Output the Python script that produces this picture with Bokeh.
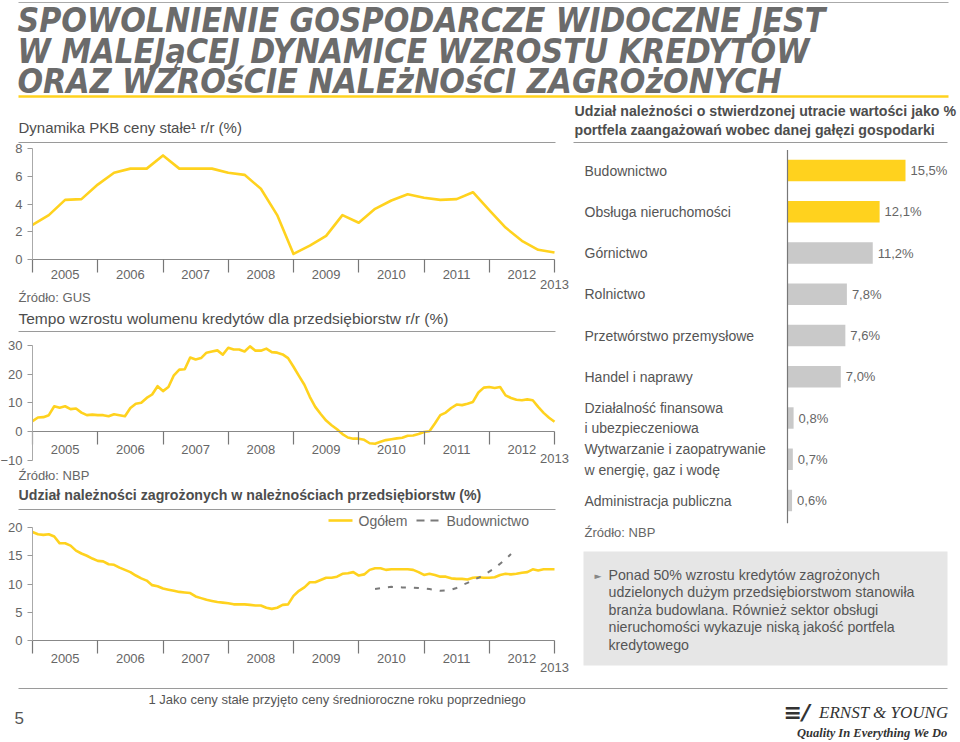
import numpy as np
from bokeh.plotting import figure
from bokeh.models import Range1d, LinearAxis, FixedTicker
from bokeh.core.properties import value
from bokeh.embed import file_html
from bokeh.resources import INLINE

# ---------------- data ----------------
years = [2005, 2006, 2007, 2008, 2009, 2010, 2011, 2012, 2013]
year_labels = ["2005", "2006", "2007", "2008", "2009", "2010", "2011", "2012"]
last_label = "2013"

# GDP growth, quarterly 2005Q1 .. 2013Q1 (%)
gdp = [2.5, 3.2, 4.3, 4.35, 5.4, 6.25, 6.55, 6.55, 7.5, 6.55, 6.55, 6.55, 6.25, 6.1, 5.1, 3.2,
       0.4, 1.0, 1.7, 3.2, 2.65, 3.65, 4.25, 4.7, 4.45, 4.3, 4.35, 4.85, 3.55, 2.3, 1.35, 0.7, 0.5]

# Corporate credit growth, monthly Jan 2005 .. Jan 2013 (%)
credit = [3.6, 4.9, 5.0, 5.7, 8.8, 8.3, 8.8, 7.8, 8.0, 6.6, 5.7, 5.9,
          5.7, 5.7, 5.3, 6.0, 5.7, 5.3, 8.2, 9.7, 10.0, 11.7, 12.9, 15.8,
          14.1, 15.5, 19.6, 21.6, 21.7, 25.8, 25.1, 25.6, 27.5, 27.9, 28.3, 26.8,
          29.2, 28.6, 28.6, 27.9, 29.7, 28.2, 28.2, 28.9, 27.7, 27.5, 26.9, 25.6,
          22.6, 19.4, 16.3, 12.1, 8.6, 6.1, 3.8, 2.2, 0.8, -0.9, -2.1, -2.5,
          -2.5, -2.9, -4.1, -4.3, -3.6, -3.0, -2.7, -2.4, -2.2, -1.5, -1.4, -0.9,
          -0.2, 0.1, 2.8, 5.7, 6.6, 8.2, 9.4, 9.2, 9.7, 10.3, 13.6, 15.3,
          15.5, 15.2, 15.5, 12.6, 11.7, 11.1, 10.9, 11.2, 10.9, 8.6, 6.5, 4.8,
          3.4]

# Share of impaired loans, total, monthly Jan 2005 .. Jan 2013 (%)
npl_total = [19.2, 18.8, 18.7, 18.8, 18.4, 17.2, 17.2, 16.8, 15.9, 15.4, 15.0, 14.5,
             14.1, 14.0, 13.5, 13.4, 12.9, 12.5, 12.1, 11.5, 11.0, 10.6, 9.8, 9.6,
             9.2, 9.0, 8.8, 8.6, 8.5, 8.4, 7.8, 7.5, 7.2, 7.0, 6.8, 6.7,
             6.6, 6.4, 6.4, 6.4, 6.3, 6.2, 6.2, 5.8, 5.6, 5.8, 6.3, 6.4,
             7.9, 8.8, 9.4, 10.3, 10.3, 10.7, 11.1, 11.1, 11.3, 11.8, 11.9, 12.1,
             11.5, 11.7, 12.5, 12.8, 12.8, 12.5, 12.6, 12.6, 12.6, 12.6, 12.5, 12.1,
             11.6, 11.8, 11.6, 11.3, 11.3, 11.0, 10.9, 10.9, 10.8, 11.1, 11.2, 11.1,
             11.1, 11.2, 11.6, 11.8, 11.7, 11.8, 12.0, 12.1, 12.6, 12.4, 12.6, 12.6,
             12.6]

# Construction, monthly Apr 2010 .. May 2012 (%)
npl_constr_start = 2010 + 3 / 12
npl_constr = [9.1, 9.25, 9.4, 9.5, 9.45, 9.4, 9.4, 9.35, 9.3,
              9.2, 9.1, 8.95, 8.8, 8.85, 9.0, 9.3, 9.8, 10.2, 10.7, 11.1, 11.6,
              12.2, 12.8, 13.6, 14.4, 15.3]

sectors = ["Budownictwo", "Obsługa nieruchomości", "Górnictwo", "Rolnictwo",
           "Przetwórstwo przemysłowe", "Handel i naprawy",
           "Działalność finansowa\ni ubezpieczeniowa",
           "Wytwarzanie i zaopatrywanie\nw energię, gaz i wodę",
           "Administracja publiczna"]
shares = [15.5, 12.1, 11.2, 7.8, 7.6, 7.0, 0.8, 0.7, 0.6]
highlighted = 2  # first two sectors highlighted

box_lines = ["Ponad 50% wzrostu kredytów zagrożonych",
             "udzielonych dużym przedsiębiorstwom stanowiła",
             "branża budowlana. Również sektor obsługi",
             "nieruchomości wykazuje niską jakość portfela",
             "kredytowego"]

# ---------------- styles ----------------
YEL = "#FFD21E"
GREY_BAR = "#C9C9C9"
TXT = "#555555"
TICK = "#666666"
FONT = "Liberation Sans"

W, H = 958, 740
OX, OY = 0, 0


def band(va, pa, vb, pb, p_start, p_end):
    k = (pb - pa) / (vb - va)
    return Range1d(start=va + (p_start - pa) / k, end=va + (p_end - pa) / k)


p = figure(width=W, height=H, x_range=Range1d(OX, OX + W), y_range=Range1d(OY + H, OY),
           output_backend="svg", toolbar_location=None, x_axis_type=None, y_axis_type=None,
           min_border=0, outline_line_color=None, background_fill_color="white",
           border_fill_color="white")

p.extra_x_ranges = {"years": band(2005, 32, 2013, 554, OX, OX + W),
                    "bars": band(0, 787, 15.5, 905, OX, OX + W)}
p.extra_y_ranges = {"gdp": band(0, 259, 8, 148, OY + H, OY),
                    "credit": band(0, 431, 30, 345, OY + H, OY),
                    "npl": band(0, 640, 20, 527, OY + H, OY),
                    "cats": band(0, 170, 8, 500, OY + H, OY)}


def txt(x, y, s, size=14, color=TXT, style="normal", align="left", font=FONT, **kw):
    p.text(x=[x], y=[y], text=[s], text_font=value(font), text_font_size=f"{size}px",
           text_color=color, text_font_style=style, text_align=align,
           text_baseline="middle", **kw)


def hline(x0, x1, y, color="#9a9a9a", width=1.0):
    p.segment(x0=[x0], y0=[y], x1=[x1], y1=[y], line_color=color, line_width=width)


# ---------------- header ----------------
hline(18, 948, 2, color="#aaaaaa")
title_lines = ["SPOWOLNIENIE GOSPODARCZE WIDOCZNE JEST",
               "W MALEJąCEJ DYNAMICE WZROSTU KREDYTÓW",
               "ORAZ WZROśCIE NALEżNOśCI ZAGROżONYCH"]
for i, t in enumerate(title_lines):
    txt(17, 20 + 30.5 * i, t, size=33.5, color="#6b6b6b", style="bold italic",
        font="DejaVu Sans Condensed")
hline(18, 948, 96, color=YEL, width=2.5)

# ---------------- chart helpers ----------------
def chart_axes(name, yticks, bounds, std_lbl, std_last):
    ya = LinearAxis(y_range_name=name, x_range_name="years", fixed_location=2005,
                    bounds=bounds, ticker=FixedTicker(ticks=yticks),
                    axis_line_color="#aaaaaa", major_tick_line_color="#999999",
                    major_tick_out=5, major_tick_in=0, minor_tick_line_color=None,
                    major_label_text_font=FONT, major_label_text_font_size="13px",
                    major_label_text_color=TICK, major_label_standoff=5)
    p.add_layout(ya, "left")
    xa = LinearAxis(x_range_name="years", y_range_name=name, fixed_location=0,
                    bounds=(years[0], years[-1]), ticker=FixedTicker(ticks=years),
                    axis_line_color="#888888", major_tick_line_color="#777777",
                    major_tick_line_width=1.2, major_tick_out=13, major_tick_in=0,
                    minor_tick_line_color=None,
                    major_label_overrides={y: "" for y in years})
    p.add_layout(xa, "below")
    mids = [y + 0.5 for y in years[:-1]]
    xl = LinearAxis(x_range_name="years", y_range_name=name, fixed_location=0,
                    ticker=FixedTicker(ticks=mids), axis_line_color=None,
                    major_tick_line_color=None, major_tick_out=0, major_tick_in=0,
                    minor_tick_line_color=None,
                    major_label_overrides={m: l for m, l in zip(mids, year_labels)},
                    major_label_text_font=FONT, major_label_text_font_size="13px",
                    major_label_text_color=TICK, major_label_standoff=std_lbl)
    p.add_layout(xl, "below")
    x3 = LinearAxis(x_range_name="years", y_range_name=name, fixed_location=0,
                    ticker=FixedTicker(ticks=[years[-1]]), axis_line_color=None,
                    major_tick_line_color=None, major_tick_out=0, major_tick_in=0,
                    minor_tick_line_color=None,
                    major_label_overrides={years[-1]: last_label},
                    major_label_text_font=FONT, major_label_text_font_size="13px",
                    major_label_text_color=TICK, major_label_standoff=std_last)
    p.add_layout(x3, "below")


q_x = [2005 + i / 4 for i in range(len(gdp))]
m_x = [2005 + i / 12 for i in range(len(credit))]
c_x = [npl_constr_start + i / 12 for i in range(len(npl_constr))]

# GDP chart
txt(18, 127, "Dynamika PKB ceny stałe¹ r/r (%)", size=15, color="#4d4d4d")
hline(18, 555, 142)
chart_axes("gdp", [0, 2, 4, 6, 8], (0, 8), 10, 20)
p.line(q_x, gdp, x_range_name="years", y_range_name="gdp", line_color=YEL,
       line_width=2.6, line_join="round")
txt(18, 297, "Źródło: GUS", size=13, color=TICK)

# Credit chart
txt(18, 318, "Tempo wzrostu wolumenu kredytów dla przedsiębiorstw r/r (%)", size=15.5, color="#4d4d4d")
hline(18, 555, 331)
chart_axes("credit", [-10, 0, 10, 20, 30], (-10, 30), 13, 22)
p.line(m_x, credit, x_range_name="years", y_range_name="credit", line_color=YEL,
       line_width=2.6, line_join="round")
txt(18, 475, "Źródło: NBP", size=13, color=TICK)

# NPL chart
txt(18, 494, "Udział należności zagrożonych w należnościach przedsiębiorstw (%)", size=14.2,
    color="#4d4d4d", style="bold")
hline(18, 555, 509)
chart_axes("npl", [0, 5, 10, 15, 20], (0, 20), 13, 22)
p.line(m_x, npl_total, x_range_name="years", y_range_name="npl", line_color=YEL,
       line_width=2.6, line_join="round")
p.line(c_x, npl_constr, x_range_name="years", y_range_name="npl", line_color="#7a7a7a",
       line_width=2.0, line_dash="5 8")
# legend
hline(328, 352, 520, color=YEL, width=2.6)
txt(358, 520, "Ogółem", size=14, color=TICK)
p.segment(x0=[416], y0=[520], x1=[438], y1=[520], line_color="#7a7a7a", line_width=2.0,
          line_dash="8 6")
txt(446, 520, "Budownictwo", size=14, color=TICK)

# ---------------- right panel ----------------
txt(574, 110, "Udział należności o stwierdzonej utracie wartości jako %", size=14.2,
    color="#4d4d4d", style="bold")
txt(574, 129, "portfela zaangażowań wobec danej gałęzi gospodarki", size=14.2,
    color="#4d4d4d", style="bold")
hline(573, 947, 142)

idx = list(range(len(sectors)))
bar_colors = [YEL if i < highlighted else GREY_BAR for i in idx]
p.hbar(y=idx, left=0, right=shares, height=0.52, x_range_name="bars", y_range_name="cats",
       fill_color=bar_colors, line_color=None)
p.segment(x0=[0], y0=[-0.5], x1=[0], y1=[len(sectors) - 0.45], x_range_name="bars",
          y_range_name="cats", line_color="#777777", line_width=1.2)
p.text(x=[584] * len(sectors), y=idx, text=sectors, y_range_name="cats",
       text_font=value(FONT), text_font_size="14px", text_color=TXT,
       text_baseline="middle", text_align="left", text_line_height=1.3)
p.text(x=shares, y=idx, text=[f"{v:.1f}".replace(".", ",") + "%" for v in shares],
       x_range_name="bars", y_range_name="cats", x_offset=5,
       text_font=value(FONT), text_font_size="13px", text_color=TICK,
       text_baseline="middle", text_align="left")
txt(584, 532, "Źródło: NBP", size=13, color=TICK)

# grey box
p.quad(left=[583], right=[947], top=[551], bottom=[665], fill_color="#e6e6e6", line_color=None)
txt(594, 575, "►", size=9, color="#888888", font="DejaVu Sans")
for i, line in enumerate(box_lines):
    txt(608, 574 + 17.6 * i, line, size=14.2, color=TXT)

# ---------------- footer ----------------
hline(18, 947, 688)
txt(148, 699, "1 Jako ceny stałe przyjęto ceny średnioroczne roku poprzedniego", size=13, color=TXT)
txt(14, 717, "5", size=17, color=TXT)
txt(783, 712, "≡/", size=22, color="#333333", style="bold italic", font="DejaVu Sans")
txt(948, 712, "ERNST & YOUNG", size=17, color="#333333", style="italic", font="Liberation Serif",
    align="right")
txt(947, 732, "Quality In Everything We Do", size=12.5, color="#333333", style="bold italic",
    font="Liberation Serif", align="right")

open("out.html", "w").write(file_html(p, INLINE))
